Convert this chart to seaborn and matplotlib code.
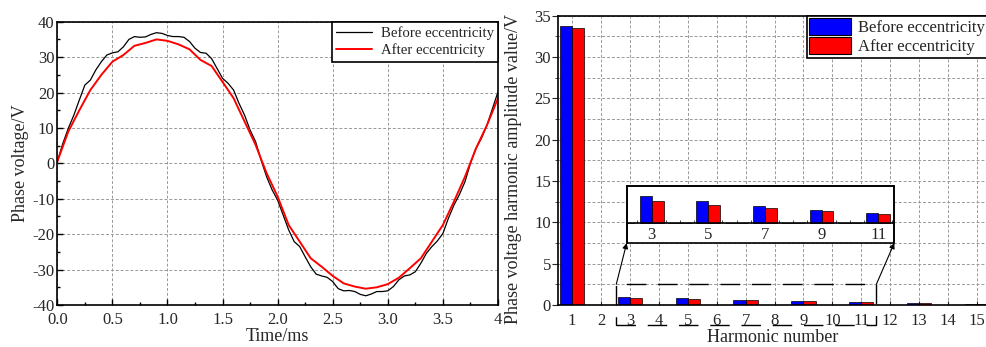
import numpy as np
import pandas as pd
import matplotlib
matplotlib.use("Agg")
import matplotlib.pyplot as plt
import seaborn as sns
from matplotlib.patches import Rectangle, Patch
from matplotlib.ticker import MultipleLocator, FixedLocator

# ---------------- data ----------------
time_before = [0.00, 0.05, 0.10, 0.15, 0.20, 0.25, 0.30, 0.35, 0.40, 0.45,
               0.50, 0.55, 0.60, 0.65, 0.70, 0.75, 0.80, 0.85, 0.90, 0.95,
               1.00, 1.05, 1.10, 1.15, 1.20, 1.25, 1.30, 1.35, 1.40, 1.45,
               1.50, 1.55, 1.60, 1.65, 1.70, 1.75, 1.80, 1.85, 1.90, 1.95,
               2.00, 2.05, 2.10, 2.15, 2.20, 2.25, 2.30, 2.35, 2.40, 2.45,
               2.50, 2.55, 2.60, 2.65, 2.70, 2.75, 2.80, 2.85, 2.90, 2.95,
               3.00, 3.05, 3.10, 3.15, 3.20, 3.25, 3.30, 3.35, 3.40, 3.45,
               3.50, 3.55, 3.60, 3.65, 3.70, 3.75, 3.80, 3.85, 3.90, 3.95, 4.00]
volt_before = [0.5, 5.6, 9.9, 13.6, 17.9, 22.1, 23.5, 26.4, 28.7, 30.6,
               31.2, 31.5, 32.9, 35.0, 35.8, 35.6, 35.7, 36.4, 36.9, 36.7,
               36.1, 35.8, 35.8, 35.6, 34.4, 32.5, 31.3, 31.1, 29.6, 26.8,
               24.0, 22.6, 20.7, 16.9, 13.6, 9.4, 6.1, 0.9, -3.8, -7.5,
               -10.4, -14.6, -18.8, -22.1, -23.5, -26.4, -29.2, -31.3, -31.8, -32.2,
               -33.4, -35.4, -36.0, -35.9, -36.2, -37.0, -37.4, -36.9, -36.2, -36.2,
               -36.0, -34.8, -32.9, -31.8, -31.5, -30.6, -28.2, -25.4, -23.5, -21.9,
               -19.8, -15.5, -11.8, -8.8, -5.2, 0.0, 4.2, 7.1, 10.8, 15.5, 20.2]

time_after = [0.0, 0.1, 0.2, 0.3, 0.4, 0.5, 0.6, 0.7, 0.8, 0.9,
              1.0, 1.1, 1.2, 1.3, 1.4, 1.5, 1.6, 1.7, 1.8, 1.9,
              2.0, 2.1, 2.2, 2.3, 2.4, 2.5, 2.6, 2.7, 2.8, 2.9,
              3.0, 3.1, 3.2, 3.3, 3.4, 3.5, 3.6, 3.7, 3.8, 3.9, 4.0]
volt_after = [0.5, 9.0, 15.0, 20.7, 25.0, 28.7, 30.6, 33.2, 34.0, 35.0,
              34.6, 33.6, 32.2, 29.2, 27.5, 23.0, 18.4, 11.8, 5.2, -2.8,
              -9.4, -17.4, -22.1, -26.8, -29.2, -31.8, -33.9, -34.8, -35.4, -35.0,
              -34.1, -32.3, -29.6, -26.8, -22.1, -17.4, -10.8, -3.8, 4.2, 10.8, 18.4]

harmonics = [1, 2, 3, 4, 5, 6, 7, 8, 9, 10, 11, 12, 13, 14, 15]
amp_before = [33.8, 0, 1.02, 0, 0.82, 0, 0.66, 0, 0.48, 0, 0.39, 0, 0.25, 0, 0.18]
amp_after = [33.5, 0, 0.85, 0, 0.70, 0, 0.56, 0, 0.44, 0, 0.33, 0, 0.22, 0, 0.12]

time_ticks = [0.0, 0.5, 1.0, 1.5, 2.0, 2.5, 3.0, 3.5, 4.0]
time_tick_labels = ["0.0", "0.5", "1.0", "1.5", "2.0", "2.5", "3.0", "3.5", "4"]
inset_labels = [3, 5, 7, 9, 11]

label_before = "Before eccentricity"
label_after = "After eccentricity"

# ---------------- style ----------------
sns.set_style("ticks")
plt.rcParams['font.family'] = ['Liberation Serif', 'DejaVu Serif']
plt.rcParams['axes.unicode_minus'] = False
plt.rcParams['axes.edgecolor'] = 'black'
plt.rcParams['axes.linewidth'] = 1.2

W, H = 987, 347
fig = plt.figure(figsize=(W / 100, H / 100), dpi=100)
ax1 = fig.add_axes([57.3 / W, 42 / H, 440.7 / W, 283.3 / H])
ax2 = fig.add_axes([558 / W, 42 / H, 429 / W, 289.3 / H])

grid_kw = dict(color='0.6', linestyle=(0, (3, 2)), linewidth=0.7)

# ---------------- left: waveform ----------------
sns.lineplot(x=time_before, y=volt_before, ax=ax1, color='black', linewidth=0.9,
             sort=False, estimator=None, label=label_before)
sns.lineplot(x=time_after, y=volt_after, ax=ax1, color='#ff0000', linewidth=1.4,
             sort=False, estimator=None, label=label_after)
ax1.set_xlim(0, 4)
ax1.set_ylim(-40, 40)
ax1.xaxis.set_major_locator(FixedLocator(time_ticks))
ax1.set_xticklabels(time_tick_labels)
ax1.xaxis.set_minor_locator(MultipleLocator(0.25))
ax1.yaxis.set_major_locator(MultipleLocator(10))
ax1.yaxis.set_minor_locator(MultipleLocator(5))
ax1.tick_params(which='both', direction='in', labelsize=12, width=1.0, color='black')
ax1.tick_params(axis='x', which='major', length=4, pad=5)
ax1.tick_params(axis='y', which='major', length=4, pad=2)
ax1.tick_params(which='minor', length=2.5)
ax1.grid(True, which='major', **grid_kw)
ax1.set_axisbelow(True)
ax1.set_xlabel("Time/ms", fontsize=13, labelpad=0)
ax1.set_ylabel("Phase voltage/V", fontsize=13, labelpad=2)
for s in ax1.spines.values():
    s.set_visible(True)
    s.set_linewidth(1.2)
leg1 = ax1.legend(loc='upper right', borderaxespad=0, fontsize=10.6, frameon=True,
                  fancybox=False, edgecolor='black', framealpha=1, handlelength=2.4,
                  labelspacing=0.25, borderpad=0.3, handletextpad=0.6)
leg1.get_frame().set_linewidth(1.2)

# ---------------- right: harmonic bars ----------------
df = pd.DataFrame({
    'harmonic': harmonics * 2,
    'amp': amp_before + amp_after,
    'state': [label_before] * len(harmonics) + [label_after] * len(harmonics),
})
palette = {label_before: '#0000ff', label_after: '#ff0000'}
sns.barplot(data=df, x='harmonic', y='amp', hue='state', native_scale=True,
            palette=palette, width=0.84, ax=ax2, edgecolor='black', linewidth=0.5,
            legend=False, saturation=1)
ax2.set_xlim(0.516, 15.345)
ax2.set_ylim(0, 35)
ax2.xaxis.set_major_locator(FixedLocator(harmonics))
ax2.set_xticklabels([str(h) for h in harmonics])
ax2.yaxis.set_major_locator(MultipleLocator(5))
ax2.yaxis.set_minor_locator(MultipleLocator(2.5))
ax2.tick_params(axis='x', which='both', direction='in', length=3, labelsize=12, pad=6)
ax2.tick_params(axis='y', which='major', direction='out', length=4, labelsize=12, pad=1)
ax2.tick_params(axis='y', which='minor', direction='out', length=2.5)
ax2.grid(True, axis='x', which='major', **grid_kw)
ax2.grid(True, axis='y', which='both', **grid_kw)
ax2.set_axisbelow(True)
ax2.set_xlabel("Harmonic number", fontsize=13, labelpad=0)
ax2.set_ylabel("Phase voltage harmonic amplitude value/V", fontsize=13)
ax2.yaxis.set_label_coords(-0.085, 0.47)
for s in ax2.spines.values():
    s.set_visible(True)
    s.set_linewidth(1.2)

# zoom region marker
ax2.add_patch(Rectangle((2.53, -2.4), 8.99, 4.9, fill=False, edgecolor='black',
                        linewidth=1.0, linestyle=(0, (14, 8.5)), clip_on=False, zorder=5))

# ---------------- inset ----------------
ins = fig.add_axes([626.7 / W, 104 / H, 267.6 / W, 57 / H])
sns.barplot(data=df, x='harmonic', y='amp', hue='state', native_scale=True,
            palette=palette, width=0.84, ax=ins, edgecolor='black', linewidth=0.5,
            legend=False, saturation=1)
ins.set_xlim(2.12, 11.57)
ins.set_ylim(-0.755, 1.40)
ins.set_facecolor('white')
ins.spines['bottom'].set_position(('data', 0))
ins.spines['bottom'].set_linewidth(1.2)
for k in ['left', 'right', 'top']:
    ins.spines[k].set_linewidth(1.2)
ins.add_patch(Rectangle((0, 0), 1, 1, transform=ins.transAxes, fill=False,
                        edgecolor='black', linewidth=1.2, clip_on=False))
ins.xaxis.set_major_locator(FixedLocator(inset_labels))
ins.set_xticklabels([str(v) for v in inset_labels])
ins.xaxis.set_minor_locator(MultipleLocator(0.5))
ins.tick_params(axis='x', which='both', direction='in', labelsize=12, pad=3)
ins.tick_params(axis='x', which='major', length=3)
ins.tick_params(axis='x', which='minor', length=2.5)
ins.set_yticks([])
ins.set_xlabel("")
ins.set_ylabel("")
ins.grid(False)

# arrows from zoom region to the inset
arrow_kw = dict(arrowstyle='-|>', color='black', lw=0.8, mutation_scale=8,
                shrinkA=0, shrinkB=0)
ax2.annotate('', xy=(0.0, 0.0), xycoords=ins.transAxes, xytext=(2.53, 2.5),
             textcoords='data', arrowprops=arrow_kw, annotation_clip=False)
ax2.annotate('', xy=(1.0, 0.0), xycoords=ins.transAxes, xytext=(11.52, 2.5),
             textcoords='data', arrowprops=arrow_kw, annotation_clip=False)

# legend for bars
handles = [Patch(facecolor='#0000ff', edgecolor='black', linewidth=0.8),
           Patch(facecolor='#ff0000', edgecolor='black', linewidth=0.8)]
leg2 = fig.legend(handles, [label_before, label_after], loc='upper left',
                  bbox_to_anchor=(807 / W, 1 - 15.7 / H), fontsize=12, frameon=True,
                  fancybox=False, edgecolor='black', framealpha=1, handlelength=2.5,
                  handleheight=1.15, labelspacing=0.08, borderpad=0.15,
                  handletextpad=0.4, borderaxespad=0)
leg2.get_frame().set_linewidth(1.2)

fig.savefig("out.png", dpi=100)
